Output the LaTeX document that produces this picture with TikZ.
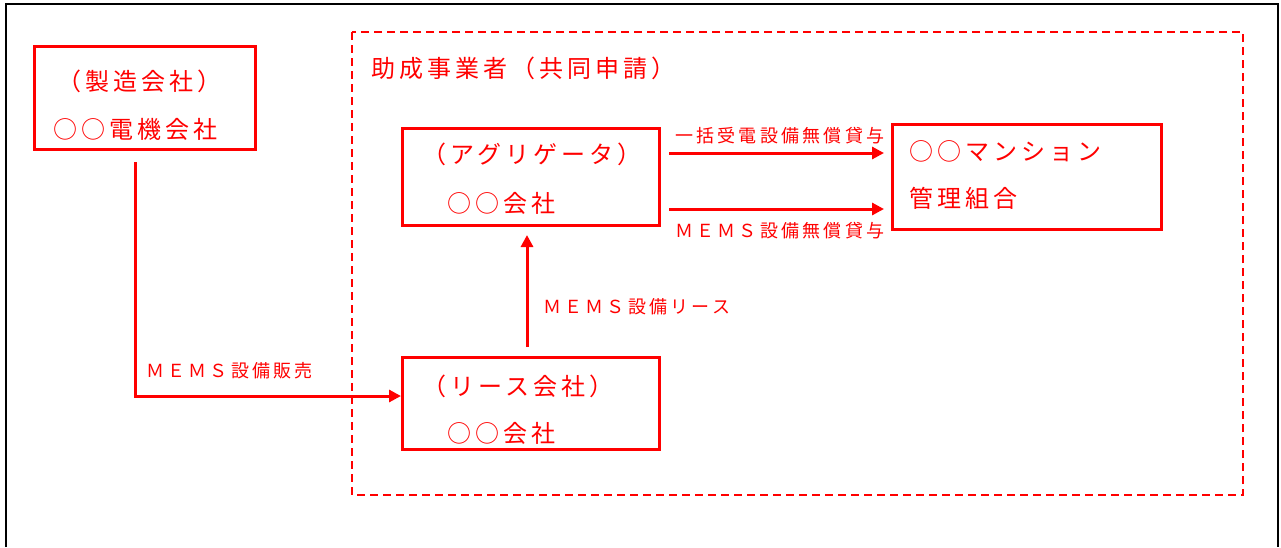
\documentclass[tikz,border=0pt]{standalone}
\usepackage{fontspec}
\usetikzlibrary{arrows.meta,calc}
\newfontfamily\boxfont[LetterSpace=17]{Noto Sans CJK JP}
\newfontfamily\lblfont[LetterSpace=18]{Noto Sans CJK JP}
\begin{document}
\begin{tikzpicture}[x=1pt,y=-1pt,
  redbox/.style={draw=red,line width=3pt,inner sep=0pt},
  btext/.style={inner sep=0pt,anchor=base west,text=red,font=\boxfont\fontsize{24}{28}\selectfont},
  ltext/.style={inner sep=0pt,anchor=base west,text=red,font=\lblfont\fontsize{18}{21}\selectfont},
  arr/.style={draw=red,line width=3pt,-{Triangle[length=12pt,width=12pt]}},
  frame/.style={draw=black,line width=2.5pt},
  group/.style={draw=red,line width=2pt,dash pattern=on 8pt off 5pt}]
\useasboundingbox (0,0) rectangle (1281,547);
% outer frame (open at the bottom)
\draw[frame] (6,547) -- (6,4) -- (1278,4) -- (1278,547);
% dashed group
\draw[group] (352,32) rectangle (1243,495);
\node[btext] (title) at (371,77) {助成事業者（共同申請）};
% boxes
\node[redbox,minimum width=221pt,minimum height=103pt] (maker) at (145,98) {};
\node[redbox,minimum width=257pt,minimum height=97pt] (agg) at (531,177) {};
\node[redbox,minimum width=269pt,minimum height=105pt] (mansion) at (1027,177) {};
\node[redbox,minimum width=257pt,minimum height=92pt] (lease) at (531,403.5) {};
% box texts
\node[btext] (makerA) at (57,90) {（製造会社）};
\node[btext] (makerB) at (53,138) {○○電機会社};
\node[btext] (aggA) at (422,163) {（アグリゲータ）};
\node[btext] (aggB) at (447,212) {○○会社};
\node[btext] (leaseA) at (422,395) {（リース会社）};
\node[btext] (leaseB) at (447,442) {○○会社};
\node[btext] (manA) at (909,160) {○○マンション};
\node[btext] (manB) at (909,207) {管理組合};
% connectors
\coordinate (m1) at ($(maker.south)+(-10,11)$);
\draw[arr] (m1) |- ([yshift=7.5pt]lease.west);
\draw[arr] ([xshift=-4pt,yshift=9pt]lease.north) -- ([xshift=-4pt,yshift=-8pt]agg.south);
\coordinate (a1) at ([xshift=8pt,yshift=24pt]agg.east);
\coordinate (a2) at ([xshift=8pt,yshift=-32pt]agg.east);
\draw[arr,shorten >=7pt] (a1) -- (a1 -| mansion.west);
\draw[arr,shorten >=7pt] (a2) -- (a2 -| mansion.west);
% connector labels
\node[ltext] (l1) at (675,142) {一括受電設備無償貸与};
\node[ltext] (l2) at (675,237) {ＭＥＭＳ設備無償貸与};
\node[ltext] (l3) at (543,313) {ＭＥＭＳ設備リース};
\node[ltext] (l4) at (146,377) {ＭＥＭＳ設備販売};
\end{tikzpicture}
\end{document}
